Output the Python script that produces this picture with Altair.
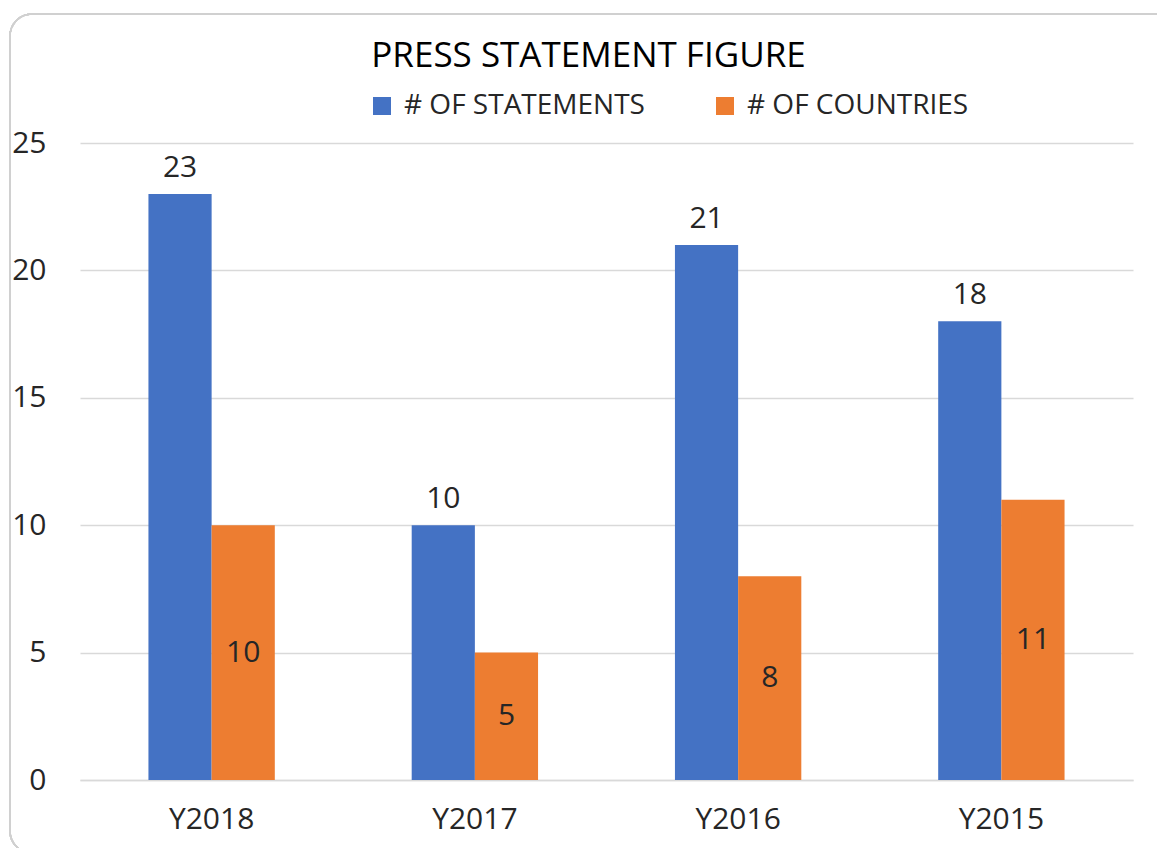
import altair as alt
import pandas as pd

categories = ["Y2018", "Y2017", "Y2016", "Y2015"]
series_names = ["# OF STATEMENTS", "# OF COUNTRIES"]
statements = [23, 10, 21, 18]
countries = [10, 5, 8, 11]
colors = ["#4472C4", "#ED7D31"]

rows = []
for c, s, n in zip(categories, statements, countries):
    rows.append({"year": c, "series": series_names[0], "value": s})
    rows.append({"year": c, "series": series_names[1], "value": n})
df = pd.DataFrame(rows)

FONT = "Open Sans"
TXT = "#262626"
FS = 30

x = alt.X("year:N", sort=categories, title=None,
          scale=alt.Scale(paddingInner=0.52, paddingOuter=0.26),
          axis=alt.Axis(labelAngle=0, labelFontSize=FS, labelFont=FONT, labelColor=TXT,
                        labelPadding=24, ticks=False, domainColor="#D9D9D9", domainWidth=1.5))
xo = alt.XOffset("series:N", sort=series_names,
                 scale=alt.Scale(paddingInner=0, paddingOuter=0))
y = alt.Y("value:Q", title=None,
          scale=alt.Scale(domain=[0, 25], nice=False),
          axis=alt.Axis(values=[0, 5, 10, 15, 20, 25], labelFontSize=FS, labelFont=FONT,
                        labelColor=TXT, labelPadding=34, ticks=False, domain=False,
                        gridColor="#D9D9D9", gridWidth=1.5))
color = alt.Color("series:N", sort=series_names,
                  scale=alt.Scale(domain=series_names, range=colors),
                  legend=alt.Legend(title=None, orient="none", legendX=288, legendY=-51,
                                    direction="horizontal", symbolType="square",
                                    symbolSize=324, symbolStrokeWidth=0, labelFontSize=28,
                                    labelFont=FONT, labelColor=TXT, columnPadding=66,
                                    labelOffset=8, labelLimit=500))

base = alt.Chart(df)

frame = base.mark_rect(fill="transparent", stroke="#D0D0D0", strokeWidth=1.5,
                       cornerRadius=22).encode(
    x=alt.value(-70), x2=alt.value(1110), y=alt.value(-129), y2=alt.value(710))

bars = base.mark_bar().encode(x=x, xOffset=xo, y=y, color=color)

top_labels = base.transform_filter(
    alt.datum.series == series_names[0]
).mark_text(baseline="bottom", dy=-11, fontSize=FS, font=FONT, color=TXT).encode(
    x=x, xOffset=xo, y=y, text="value:Q")

mid_labels = base.transform_filter(
    alt.datum.series == series_names[1]
).transform_calculate(half="datum.value / 2").mark_text(
    baseline="middle", fontSize=FS, font=FONT, color=TXT).encode(
    x=x, xOffset=xo, y=alt.Y("half:Q"), text="value:Q")

chart = alt.layer(frame, bars, top_labels, mid_labels).properties(
    width=1053, height=637,
    title=alt.TitleParams("PRESS STATEMENT FIGURE", fontSize=35, font=FONT,
                          fontWeight="normal", color="#000000", anchor="middle",
                          dx=-18, offset=-61),
    autosize=alt.AutoSizeParams(type="none"),
    padding={"left": 72, "top": 135, "right": 24, "bottom": 68},
).configure_view(stroke=None)

chart.save("out.html", embed_options={"renderer": "svg", "actions": False})
